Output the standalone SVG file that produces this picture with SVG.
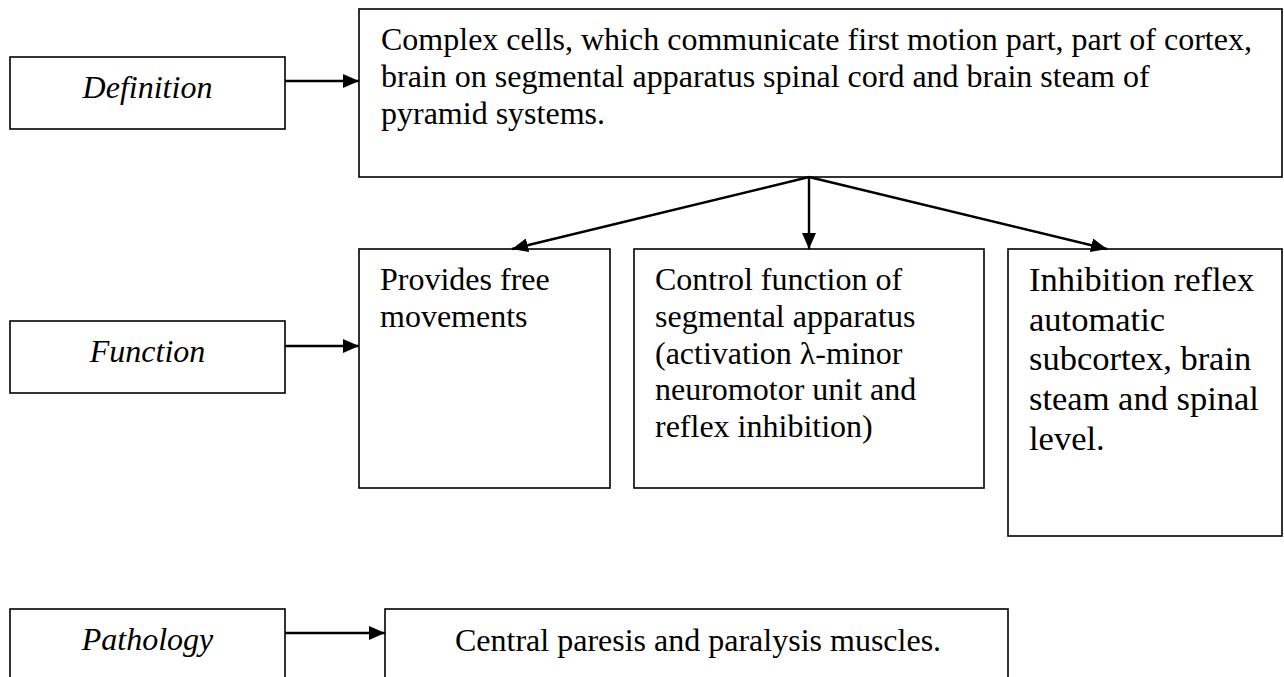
<svg xmlns="http://www.w3.org/2000/svg" width="1284" height="677" viewBox="0 0 1284 677">
  <style>
    .box { fill: #ffffff; stroke: #000000; stroke-width: 1.6; }
    .label { font-family: "Liberation Serif", "Times New Roman", serif; font-style: italic; font-size: 32px; fill: #000000; text-anchor: middle; }
    .body { font-family: "Liberation Serif", "Times New Roman", serif; font-size: 32px; fill: #000000; }
    .big { font-family: "Liberation Serif", "Times New Roman", serif; font-size: 34.5px; fill: #000000; }
    .conn { stroke: #000000; stroke-width: 2.4; fill: none; marker-end: url(#head); }
  </style>
  <defs>
    <marker id="head" markerUnits="userSpaceOnUse" markerWidth="16" markerHeight="14" refX="16" refY="7" orient="auto">
      <path d="M0,0 L16,7 L0,14 z" fill="#000000"/>
    </marker>
  </defs>
  <rect width="1284" height="677" fill="#ffffff"/>

  <!-- row labels -->
  <g id="definition">
    <rect class="box" x="10" y="57" width="275" height="72"/>
    <text class="label" x="147.5" y="98">Definition</text>
  </g>
  <g id="function">
    <rect class="box" x="10" y="321" width="275" height="72"/>
    <text class="label" x="147.5" y="362">Function</text>
  </g>
  <g id="pathology">
    <rect class="box" x="10" y="609" width="275" height="80"/>
    <text class="label" x="147.5" y="650">Pathology</text>
  </g>

  <!-- definition text -->
  <g id="definition-text">
    <rect class="box" x="359" y="9" width="923" height="168"/>
    <text class="body" x="381" y="50">Complex cells, which communicate first motion part, part of cortex,</text>
    <text class="body" x="381" y="87">brain on segmental apparatus spinal cord and brain steam of</text>
    <text class="body" x="381" y="124">pyramid systems.</text>
  </g>

  <!-- functions -->
  <g id="free-movements">
    <rect class="box" x="359" y="249" width="251" height="239"/>
    <text class="body" x="380" y="290">Provides free</text>
    <text class="body" x="380" y="327">movements</text>
  </g>
  <g id="control-function">
    <rect class="box" x="634" y="249" width="350" height="239"/>
    <text class="body" x="655" y="290">Control function of</text>
    <text class="body" x="655" y="327">segmental apparatus</text>
    <text class="body" x="655" y="364">(activation λ-minor</text>
    <text class="body" x="655" y="400">neuromotor unit and</text>
    <text class="body" x="655" y="437">reflex inhibition)</text>
  </g>
  <g id="inhibition-reflex">
    <rect class="box" x="1008" y="249" width="274" height="287"/>
    <text class="big" x="1029" y="291">Inhibition reflex</text>
    <text class="big" x="1029" y="331">automatic</text>
    <text class="big" x="1029" y="370">subcortex, brain</text>
    <text class="big" x="1029" y="410">steam and spinal</text>
    <text class="big" x="1029" y="450">level.</text>
  </g>

  <!-- pathology text -->
  <g id="central-paresis">
    <rect class="box" x="385" y="609" width="623" height="80"/>
    <text class="body" x="455" y="651">Central paresis and paralysis muscles.</text>
  </g>

  <!-- connectors -->
  <g id="connectors">
    <line class="conn" x1="285" y1="81" x2="359" y2="81"/>
    <line class="conn" x1="285" y1="346" x2="359" y2="346"/>
    <line class="conn" x1="285" y1="633" x2="385" y2="633"/>
    <line class="conn" x1="809" y1="177" x2="512" y2="249"/>
    <line class="conn" x1="809" y1="177" x2="809" y2="249"/>
    <line class="conn" x1="809" y1="177" x2="1107" y2="249"/>
  </g>
</svg>
